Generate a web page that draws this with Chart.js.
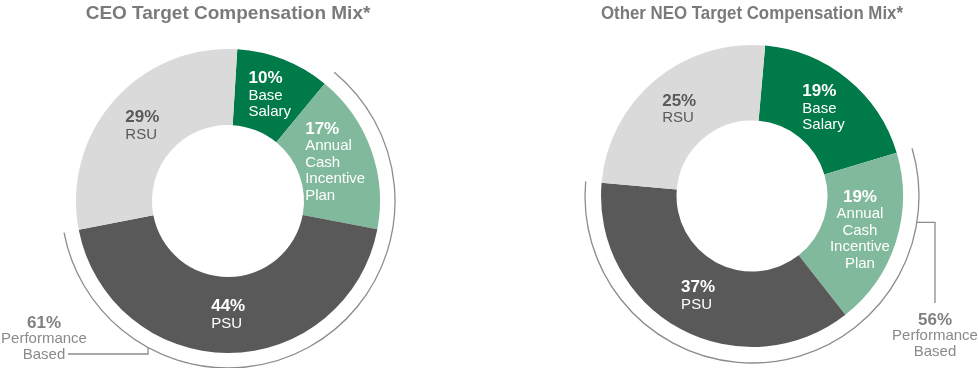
<!DOCTYPE html>
<html>
<head>
<meta charset="utf-8">
<script src="https://cdn.jsdelivr.net/npm/chart.js@4/dist/chart.umd.min.js"></script>
<style>
    html, body { margin: 0; padding: 0; background: #fff; }
    .wrap { display: flex; width: 978px; height: 368px; }
    .box { width: 489px; height: 368px; }
</style>
</head>
<body>
<div class="wrap">
    <div class="box"><canvas id="ceo" width="489" height="368"></canvas></div>
    <div class="box"><canvas id="neo" width="489" height="368"></canvas></div>
</div>
<script>
// Data
const categories = [['Base', 'Salary'], ['Annual', 'Cash', 'Incentive', 'Plan'], ['PSU'], ['RSU']];
const ceoMix = [10, 17, 44, 29];
const neoMix = [19, 19, 37, 25];
const ceoPerformance = 61;
const neoPerformance = 56;
const performanceLabel = ['Performance', 'Based'];
const titles = ['CEO Target Compensation Mix*', 'Other NEO Target Compensation Mix*'];

const FONT = "'Liberation Sans', Arial, sans-serif";
const sliceColors = ['#007a48', '#80b99c', '#595959', '#d9dad9'];
const textColors = ['#ffffff', '#ffffff', '#ffffff', '#595959'];

// labels inside the slices
const sliceLabels = {
    id: 'sliceLabels',
    afterDatasetsDraw(chart, args, opts) {
        const ctx = chart.ctx;
        const arcs = chart.getDatasetMeta(0).data;
        const values = chart.data.datasets[0].data;
        ctx.save();
        ctx.textBaseline = 'middle';
        arcs.forEach((arc, i) => {
            const mid = (arc.startAngle + arc.endAngle) / 2;
            const r = (arc.innerRadius + arc.outerRadius) / 2;
            const cx = arc.x + Math.cos(mid) * r;
            const cy = arc.y + Math.sin(mid) * r;
            const lines = [values[i] + '%'].concat(chart.data.labels[i]);
            let w = 0;
            lines.forEach((t, j) => {
                ctx.font = (j === 0 ? 'bold 17px ' : '15px ') + FONT;
                w = Math.max(w, ctx.measureText(t).width);
            });
            const h = 17 + (lines.length - 1) * 16.5;
            let y = cy - h / 2 + 8.5;
            const center = opts.centered.includes(i);
            ctx.textAlign = center ? 'center' : 'left';
            const x = center ? cx : cx - w / 2;
            ctx.fillStyle = textColors[i];
            lines.forEach((t, j) => {
                ctx.font = (j === 0 ? 'bold 17px ' : '15px ') + FONT;
                ctx.fillText(t, x, y);
                y += j === 0 ? 17 : 16.5;
            });
        });
        ctx.restore();
    }
};

// outer bracket arc over the performance based slices
const perfArc = {
    id: 'perfArc',
    afterDatasetsDraw(chart, args, opts) {
        const ctx = chart.ctx;
        const arcs = chart.getDatasetMeta(0).data;
        const first = arcs[opts.from], last = arcs[opts.to];
        const x = first.x, y = first.y, R = first.outerRadius + opts.gap;
        ctx.save();
        ctx.strokeStyle = '#8c8c8c';
        ctx.lineWidth = 1.3;
        ctx.beginPath();
        ctx.arc(x, y, R, first.startAngle, last.endAngle);
        ctx.stroke();

        const a = opts.attach * Math.PI / 180;
        let px = x + Math.cos(a) * R, py = y + Math.sin(a) * R;
        ctx.beginPath();
        ctx.moveTo(px, py);
        opts.leader.forEach(([dir, v]) => {
            if (dir === 'h') px = x + v; else py = y + v;
            ctx.lineTo(px, py);
        });
        ctx.stroke();

        ctx.textAlign = 'center';
        ctx.textBaseline = 'middle';
        const lines = [opts.value + '%'].concat(performanceLabel);
        lines.forEach((t, j) => {
            ctx.font = (j === 0 ? 'bold 17px ' : '15px ') + FONT;
            ctx.fillStyle = j === 0 ? '#808080' : '#8a8a8a';
            ctx.fillText(t, x + opts.text[0], y + opts.text[1] + j * 16);
        });
        ctx.restore();
    }
};

function makeChart(id, values, title, padding, titlePad, rotation, perf, centered) {
    return new Chart(document.getElementById(id).getContext('2d'), {
        type: 'doughnut',
        data: {
            labels: categories,
            datasets: [{
                data: values,
                backgroundColor: sliceColors,
                borderWidth: 0,
                hoverOffset: 0
            }]
        },
        options: {
            responsive: false,
            animation: false,
            cutout: '50%',
            rotation: rotation,
            layout: { padding: padding },
            plugins: {
                legend: { display: false },
                tooltip: { enabled: false },
                title: {
                    display: true,
                    text: title,
                    color: '#7a7a7a',
                    font: { family: FONT, size: 19, weight: 'bold' },
                    padding: titlePad
                },
                sliceLabels: { centered: centered },
                perfArc: perf
            }
        },
        plugins: [sliceLabels, perfArc]
    });
}

makeChart('ceo', ceoMix, titles[0],
    { left: 76, right: 109, top: 0, bottom: 15 },
    { top: 2, bottom: 24.2 },
    3.5,
    { from: 1, to: 2, gap: 15, attach: 118.6, leader: [['v', 153], ['h', -160]], text: [-184, 122], value: ceoPerformance },
    []);

makeChart('neo', neoMix, titles[1],
    { left: 112, right: 75, top: 0, bottom: 21 },
    { top: 2, bottom: 20.2 },
    5,
    { from: 1, to: 2, gap: 16, attach: 9.1, leader: [['h', 183], ['v', 107]], text: [183, 124], value: neoPerformance },
    [1]);
</script>
</body>
</html>
